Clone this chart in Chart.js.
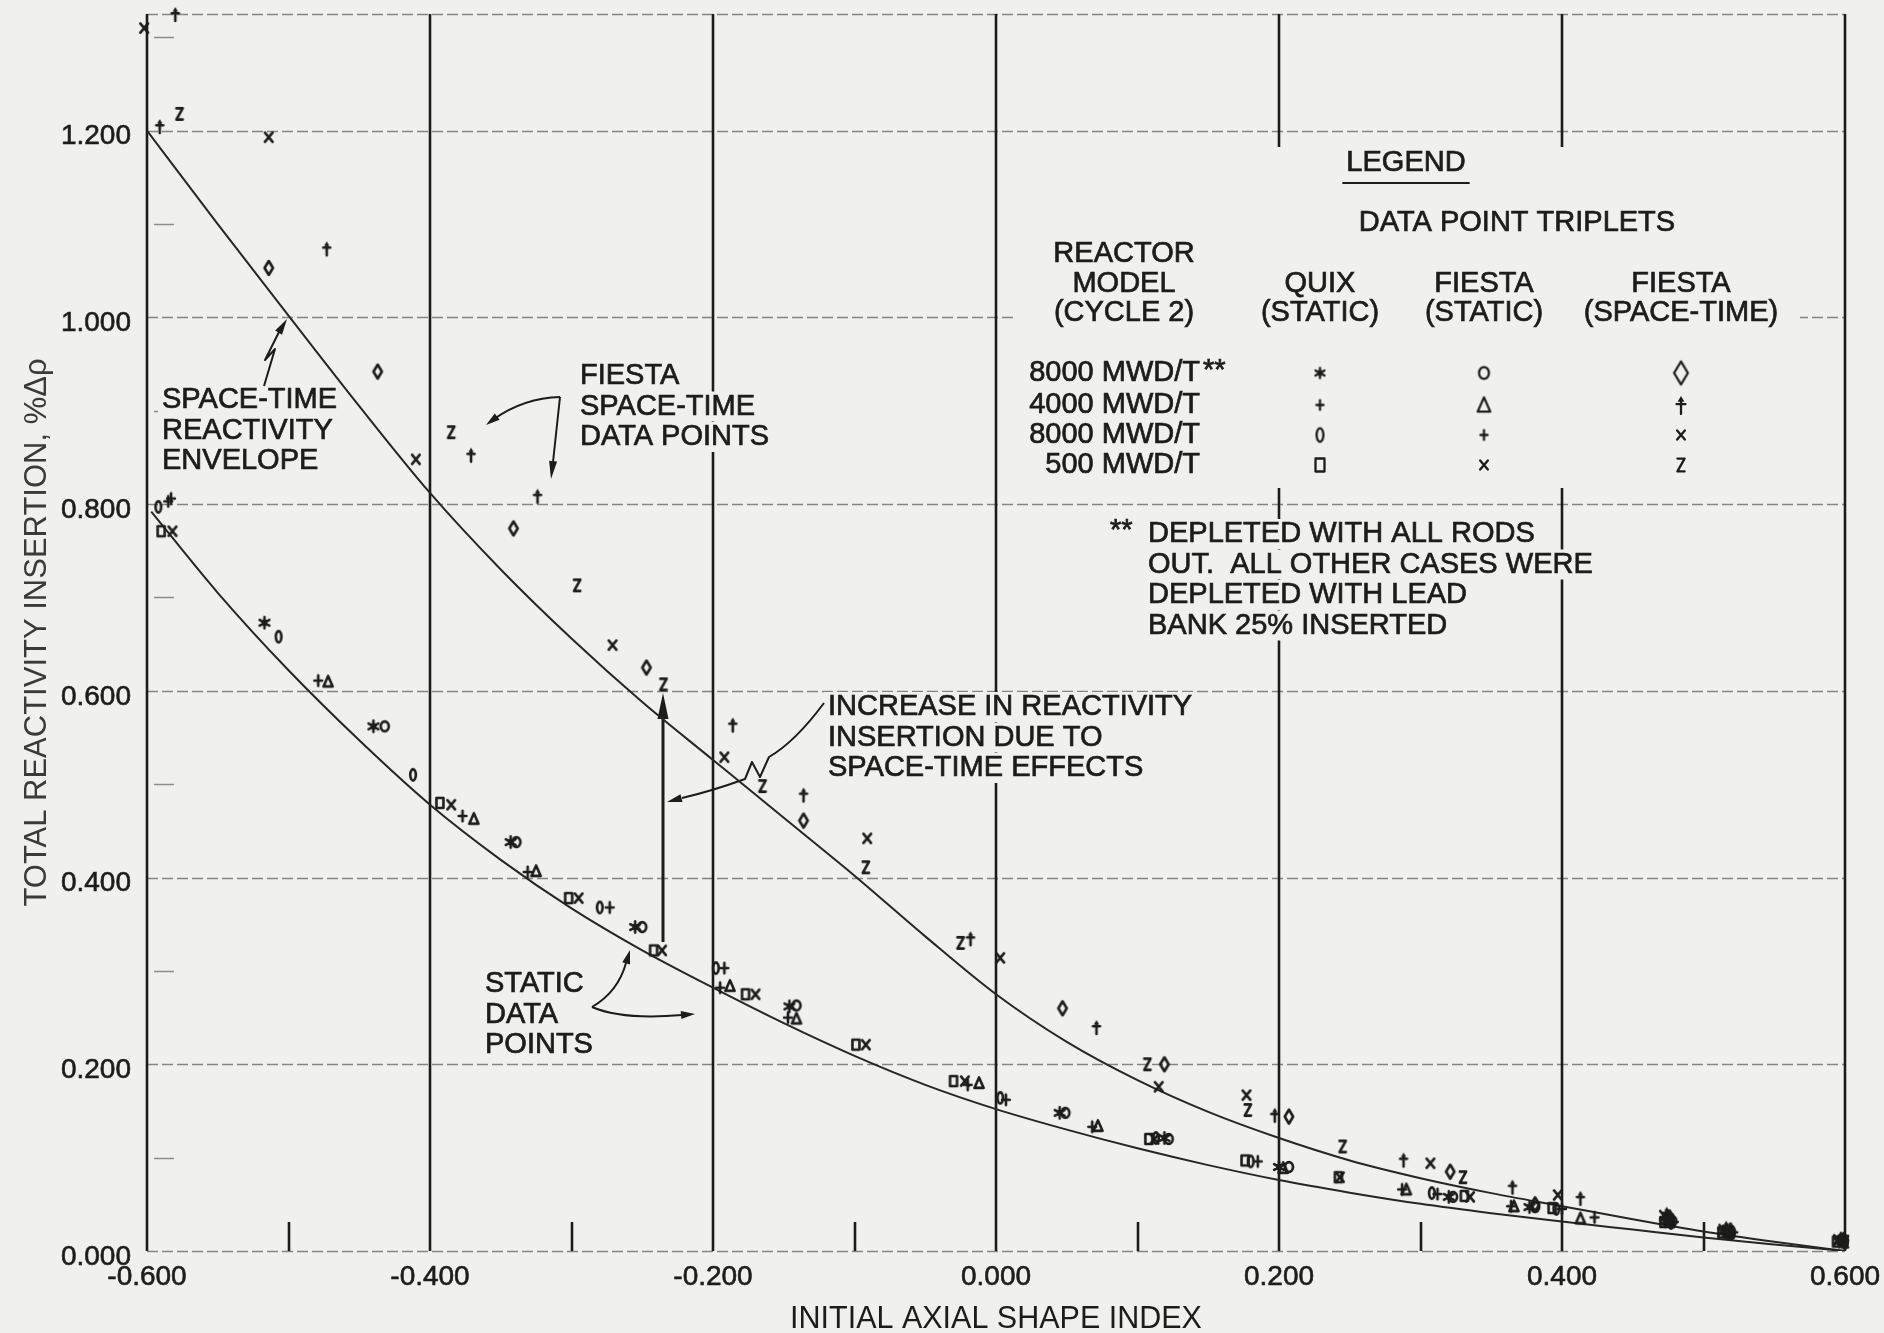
<!DOCTYPE html>
<html>
<head>
<meta charset="utf-8">
<title>Total reactivity insertion vs initial axial shape index</title>
<script src="https://cdn.jsdelivr.net/npm/chart.js@4.4.1/dist/chart.umd.min.js"></script>
<style>
  html, body { margin: 0; padding: 0; background: #f0f0ef; }
  canvas { display: block; }
</style>
</head>
<body>
<canvas id="chart" width="1884" height="1333"></canvas>
<script>
// ---- axes -------------------------------------------------------------
const xTicks = [-0.6, -0.4, -0.2, 0, 0.2, 0.4, 0.6];
const yTicks = [0, 0.2, 0.4, 0.6, 0.8, 1.0, 1.2];
const xMinorTicks = [-0.5, -0.3, -0.1, 0.1, 0.3, 0.5];
const yMinorTicks = [0.1, 0.3, 0.5, 0.7, 0.9, 1.1, 1.3];
const xRange = [-0.6, 0.6];
const yRange = [0, 1.325];

// ---- fitted curves [axial shape index, reactivity %dp] ----------------
const envelopeCurve = [
  [-0.600, 1.200], [-0.550, 1.100], [-0.500, 1.002], [-0.450, 0.905], [-0.400, 0.812],
  [-0.350, 0.730], [-0.300, 0.656], [-0.250, 0.588], [-0.200, 0.526], [-0.150, 0.464],
  [-0.100, 0.402], [-0.050, 0.337], [0.000, 0.275], [0.050, 0.224], [0.100, 0.183],
  [0.150, 0.149], [0.200, 0.121], [0.250, 0.097], [0.300, 0.078], [0.350, 0.062],
  [0.400, 0.048], [0.450, 0.034], [0.500, 0.021], [0.550, 0.010], [0.600, 0.000]
];
const staticCurve = [
  [-0.597, 0.792], [-0.550, 0.705], [-0.500, 0.622], [-0.450, 0.547], [-0.400, 0.478],
  [-0.350, 0.419], [-0.300, 0.367], [-0.250, 0.322], [-0.200, 0.282], [-0.150, 0.244],
  [-0.100, 0.209], [-0.050, 0.178], [0.000, 0.152], [0.050, 0.130], [0.100, 0.110],
  [0.150, 0.092], [0.200, 0.076], [0.250, 0.0625], [0.300, 0.0505], [0.350, 0.0405],
  [0.400, 0.0315], [0.450, 0.023], [0.500, 0.0145], [0.550, 0.007], [0.600, 0.000]
];

// ---- FIESTA space-time results ----------------------------------------
const stRodsOut8000 = [
  [-0.514, 1.053], [-0.437, 0.942], [-0.341, 0.774], [-0.247, 0.625], [-0.136, 0.461],
  [0.047, 0.260], [0.119, 0.200], [0.207, 0.144], [0.321, 0.085], [0.381, 0.050],
  [0.476, 0.036], [0.519, 0.022], [0.599, 0.012]
];
const st4000 = [
  [-0.580, 1.325], [-0.591, 1.205], [-0.473, 1.074], [-0.371, 0.853], [-0.324, 0.809],
  [-0.186, 0.564], [-0.136, 0.489], [-0.018, 0.335], [0.071, 0.240], [0.197, 0.146],
  [0.288, 0.098], [0.365, 0.069], [0.413, 0.057], [0.474, 0.040], [0.516, 0.025], [0.597, 0.014]
];
const st8000 = [
  [-0.602, 1.310], [-0.514, 1.193], [-0.410, 0.848], [-0.271, 0.649], [-0.192, 0.529],
  [-0.091, 0.442], [0.003, 0.314], [0.115, 0.176], [0.177, 0.167], [0.307, 0.094],
  [0.397, 0.060], [0.472, 0.038], [0.514, 0.023], [0.595, 0.012]
];
const st500 = [
  [-0.577, 1.218], [-0.385, 0.877], [-0.296, 0.713], [-0.235, 0.607], [-0.165, 0.498],
  [-0.092, 0.411], [-0.025, 0.330], [0.107, 0.200], [0.178, 0.151], [0.245, 0.112],
  [0.330, 0.079], [0.476, 0.033], [0.518, 0.020], [0.600, 0.010]
];

// ---- QUIX static results ----------------------------------------------
const quixRodsOut8000 = [
  [-0.517, 0.673], [-0.440, 0.562], [-0.343, 0.438], [-0.255, 0.347], [-0.146, 0.262],
  [0.045, 0.148], [0.119, 0.121], [0.200, 0.090], [0.320, 0.058], [0.377, 0.047],
  [0.473, 0.032], [0.514, 0.021], [0.596, 0.010]
];
const quix4000 = [
  [-0.585, 0.803], [-0.479, 0.611], [-0.377, 0.466], [-0.331, 0.406], [-0.195, 0.282],
  [-0.147, 0.250], [-0.020, 0.178], [0.068, 0.133], [0.287, 0.066], [0.364, 0.048],
  [0.423, 0.036], [0.474, 0.034], [0.516, 0.022], [0.597, 0.011]
];
const quix8000 = [
  [-0.592, 0.797], [-0.507, 0.658], [-0.412, 0.510], [-0.280, 0.368], [-0.198, 0.303],
  [0.003, 0.164], [0.113, 0.121], [0.180, 0.096], [0.308, 0.062], [0.396, 0.045],
  [0.477, 0.030], [0.520, 0.019], [0.600, 0.009]
];
const quix500 = [
  [-0.590, 0.771], [-0.393, 0.480], [-0.302, 0.378], [-0.242, 0.322], [-0.177, 0.275],
  [-0.099, 0.221], [-0.030, 0.182], [0.108, 0.120], [0.176, 0.097], [0.242, 0.079],
  [0.331, 0.059], [0.393, 0.046], [0.472, 0.031], [0.513, 0.020], [0.594, 0.010]
];

// ---- FIESTA static results --------------------------------------------
const fiestaRodsOut8000 = [
  [-0.432, 0.562], [-0.339, 0.438], [-0.250, 0.347], [-0.141, 0.263], [0.049, 0.148],
  [0.122, 0.120], [0.207, 0.090], [0.323, 0.058], [0.381, 0.047], [0.478, 0.032],
  [0.519, 0.021], [0.599, 0.011]
];
const fiesta4000 = [
  [-0.472, 0.610], [-0.369, 0.463], [-0.325, 0.407], [-0.188, 0.284], [-0.141, 0.249],
  [-0.012, 0.180], [0.072, 0.134], [0.203, 0.089], [0.290, 0.066], [0.366, 0.048],
  [0.413, 0.035], [0.476, 0.032], [0.518, 0.020]
];
const fiesta8000 = [
  [-0.583, 0.806], [-0.273, 0.368], [-0.192, 0.303], [0.007, 0.162], [0.185, 0.096],
  [0.312, 0.061], [0.400, 0.045], [0.479, 0.031], [0.521, 0.020]
];
const fiesta500 = [
  [-0.582, 0.771], [-0.385, 0.478], [-0.295, 0.378], [-0.236, 0.322], [-0.170, 0.275],
  [-0.092, 0.221], [-0.022, 0.182], [0.112, 0.120], [0.243, 0.079], [0.335, 0.058],
  [0.476, 0.031], [0.517, 0.020], [0.598, 0.011]
];

// space-time gain marked between the two curves
const increaseArrow = { x: -0.235, from: 0.331, to: 0.598 };

// ---- legend table -----------------------------------------------------
const legendRows = ['8000 MWD/T', '4000 MWD/T', '8000 MWD/T', '500 MWD/T'];
const legendCols = [['QUIX', '(STATIC)'], ['FIESTA', '(STATIC)'], ['FIESTA', '(SPACE-TIME)']];
const legendGlyphs = [
  ['star', 'ring', 'diamond'],
  ['plus', 'triangle', 'dagger'],
  ['zero', 'plus', 'ex'],
  ['square', 'ex', 'zed']
];

// ---- styling ----------------------------------------------------------
const INK = '#1c1c1c';
const PAPER = '#f0f0ef';
const FONT = '"Liberation Sans", Arial, Helvetica, sans-serif';

function glyph(kind, size, lw) {
  const pad = Math.ceil(lw) + 2;
  const c = document.createElement('canvas');
  c.width = c.height = Math.ceil(size) + pad * 2;
  const g = c.getContext('2d');
  g.translate(c.width / 2, c.height / 2);
  g.strokeStyle = INK; g.fillStyle = INK;
  g.lineWidth = lw; g.lineJoin = 'round'; g.lineCap = 'round';
  const r = size / 2;
  g.beginPath();
  switch (kind) {
    case 'diamond':
      g.moveTo(0, -r); g.lineTo(r * 0.6, 0); g.lineTo(0, r); g.lineTo(-r * 0.6, 0); g.closePath(); g.stroke();
      break;
    case 'dagger':
      g.moveTo(0, r); g.lineTo(0, -r * 0.45);
      g.moveTo(-r * 0.5, -r * 0.1); g.lineTo(r * 0.5, -r * 0.1); g.stroke();
      g.beginPath(); g.moveTo(0, -r); g.lineTo(r * 0.38, -r * 0.35); g.lineTo(-r * 0.38, -r * 0.35); g.closePath(); g.fill();
      break;
    case 'ex':
      g.moveTo(-r * 0.55, -r * 0.65); g.lineTo(r * 0.55, r * 0.65);
      g.moveTo(r * 0.55, -r * 0.65); g.lineTo(-r * 0.55, r * 0.65); g.stroke();
      break;
    case 'zed':
      g.moveTo(-r * 0.45, -r * 0.8); g.lineTo(r * 0.45, -r * 0.8); g.lineTo(-r * 0.45, r * 0.8); g.lineTo(r * 0.45, r * 0.8); g.stroke();
      break;
    case 'star':
      for (let k = 0; k < 3; k++) {
        const a = Math.PI / 2 + k * Math.PI / 3;
        g.moveTo(Math.cos(a) * r * 0.8, Math.sin(a) * r * 0.8);
        g.lineTo(-Math.cos(a) * r * 0.8, -Math.sin(a) * r * 0.8);
      }
      g.stroke(); g.beginPath(); g.arc(0, 0, r * 0.45, 0, Math.PI * 2); g.fill();
      break;
    case 'plus':
      g.moveTo(0, -r * 0.75); g.lineTo(0, r * 0.75); g.moveTo(-r * 0.55, 0); g.lineTo(r * 0.55, 0); g.stroke();
      break;
    case 'zero':
      g.ellipse(0, 0, r * 0.4, r * 0.8, 0, 0, Math.PI * 2); g.stroke();
      break;
    case 'square':
      g.rect(-r * 0.5, -r * 0.72, r, r * 1.44); g.stroke();
      break;
    case 'ring':
      g.ellipse(0, 0, r * 0.58, r * 0.7, 0, 0, Math.PI * 2); g.stroke();
      break;
    case 'triangle':
      g.moveTo(0, -r * 0.8); g.lineTo(r * 0.66, r * 0.7); g.lineTo(-r * 0.66, r * 0.7); g.closePath(); g.stroke();
      break;
  }
  return c;
}

const pairs = arr => arr.map(([x, y]) => ({ x, y }));

const markerSeries = [
  { label: 'FIESTA space-time 8000 MWD/T**', data: stRodsOut8000, kind: 'diamond' },
  { label: 'FIESTA space-time 4000 MWD/T', data: st4000, kind: 'dagger' },
  { label: 'FIESTA space-time 8000 MWD/T', data: st8000, kind: 'ex' },
  { label: 'FIESTA space-time 500 MWD/T', data: st500, kind: 'zed' },
  { label: 'QUIX static 8000 MWD/T**', data: quixRodsOut8000, kind: 'star' },
  { label: 'QUIX static 4000 MWD/T', data: quix4000, kind: 'plus' },
  { label: 'QUIX static 8000 MWD/T', data: quix8000, kind: 'zero' },
  { label: 'QUIX static 500 MWD/T', data: quix500, kind: 'square' },
  { label: 'FIESTA static 8000 MWD/T**', data: fiestaRodsOut8000, kind: 'ring' },
  { label: 'FIESTA static 4000 MWD/T', data: fiesta4000, kind: 'triangle' },
  { label: 'FIESTA static 8000 MWD/T', data: fiesta8000, kind: 'plus' },
  { label: 'FIESTA static 500 MWD/T', data: fiesta500, kind: 'ex' }
];

const datasets = markerSeries.map(s => ({
  label: s.label,
  data: pairs(s.data),
  pointStyle: glyph(s.kind, 14, 2.6),
  pointRadius: 8,
  showLine: false,
  clip: false
}));
[['Space-time reactivity envelope', envelopeCurve], ['Static fit', staticCurve]].forEach(([label, pts]) => {
  datasets.push({
    label, data: pairs(pts), showLine: true, pointRadius: 0,
    borderColor: '#262626', borderWidth: 2, cubicInterpolationMode: 'monotone', fill: false
  });
});

// ---- annotation layout (canvas pixels) --------------------------------
const LINE_GAP = 30.5;
const notes = [
  { x: 162, y: 400, lines: ['SPACE-TIME', 'REACTIVITY', 'ENVELOPE'] },
  { x: 580, y: 376, lines: ['FIESTA', 'SPACE-TIME', 'DATA POINTS'] },
  { x: 485, y: 984, lines: ['STATIC', 'DATA', 'POINTS'] },
  { x: 828, y: 707, lines: ['INCREASE IN REACTIVITY', 'INSERTION DUE TO', 'SPACE-TIME EFFECTS'] },
  { x: 1148, y: 534, lines: ['DEPLETED WITH ALL RODS', 'OUT.  ALL OTHER CASES WERE', 'DEPLETED WITH LEAD', 'BANK 25% INSERTED'] }
];
const legendBox = { left: 1015, top: 147, right: 1800, bottom: 488 };
const legendLayout = {
  titleX: 1406, titleY: 163, tripletsX: 1517, tripletsY: 223,
  modelX: 1124, headY: [254, 284, 313], colX: [1320, 1484, 1681],
  rowRight: 1200, rowY: [373, 405, 435, 465]
};

function arrowHead(ctx, tx, ty, fx, fy, len, hw) {
  const a = Math.atan2(ty - fy, tx - fx);
  const bx = tx - len * Math.cos(a), by = ty - len * Math.sin(a);
  ctx.beginPath();
  ctx.moveTo(tx, ty);
  ctx.lineTo(bx + hw * Math.sin(a), by - hw * Math.cos(a));
  ctx.lineTo(bx - hw * Math.sin(a), by + hw * Math.cos(a));
  ctx.closePath();
  ctx.fill();
}

// ink text with a slight stroke so it reads like the printed lettering
function ink(ctx, str, x, y) {
  ctx.fillStyle = INK;
  ctx.strokeStyle = INK;
  ctx.lineWidth = 0.7;
  ctx.fillText(str, x, y);
  ctx.strokeText(str, x, y);
}

function textLine(ctx, str, x, y, align) {
  const w = ctx.measureText(str).width;
  const left = align === 'center' ? x - w / 2 : align === 'right' ? x - w : x;
  ctx.fillStyle = PAPER;
  ctx.fillRect(left - 4, y - 15, w + 8, 30);
  ctx.textAlign = align;
  ink(ctx, str, x, y);
}

const paperPlugin = {
  id: 'paper',
  beforeDraw(chart) {
    const { ctx, width, height } = chart;
    ctx.save();
    ctx.fillStyle = PAPER;
    ctx.fillRect(0, 0, width, height);
    ctx.restore();
  },
  beforeDatasetsDraw(chart) {
    const { ctx, chartArea: a, scales: { x, y } } = chart;
    const px = v => Math.round(x.getPixelForValue(v));
    const py = v => Math.round(y.getPixelForValue(v));
    ctx.save();

    // faint dashed horizontal rules (incl. zero line and top edge)
    ctx.strokeStyle = '#848484';
    ctx.lineWidth = 1.7;
    ctx.setLineDash([11, 4]);
    [...yTicks, yRange[1]].forEach(v => {
      ctx.beginPath(); ctx.moveTo(a.left, py(v) + 0.5); ctx.lineTo(a.right, py(v) + 0.5); ctx.stroke();
    });
    ctx.setLineDash([]);

    // short minor ticks along the left edge
    ctx.strokeStyle = '#8c8c8c';
    ctx.lineWidth = 1.5;
    yMinorTicks.forEach(v => {
      ctx.beginPath(); ctx.moveTo(a.left + 7, py(v) + 0.5); ctx.lineTo(a.left + 27, py(v) + 0.5); ctx.stroke();
    });

    // solid vertical rules and frame sides
    ctx.strokeStyle = INK;
    ctx.lineWidth = 2.6;
    xTicks.forEach(v => {
      ctx.beginPath(); ctx.moveTo(px(v), a.top); ctx.lineTo(px(v), a.bottom); ctx.stroke();
    });
    xMinorTicks.forEach(v => {
      ctx.beginPath(); ctx.moveTo(px(v), a.bottom); ctx.lineTo(px(v), a.bottom - 29); ctx.stroke();
    });

    ctx.font = '29px ' + FONT;
    ctx.textBaseline = 'middle';

    // legend block
    ctx.fillStyle = PAPER;
    ctx.fillRect(legendBox.left, legendBox.top, legendBox.right - legendBox.left, legendBox.bottom - legendBox.top);
    const L = legendLayout;
    ctx.textAlign = 'center';
    ink(ctx, 'LEGEND', L.titleX, L.titleY);
    const lw = ctx.measureText('LEGEND').width;
    ctx.lineWidth = 2;
    ctx.beginPath(); ctx.moveTo(L.titleX - lw / 2 - 4, L.titleY + 20); ctx.lineTo(L.titleX + lw / 2 + 4, L.titleY + 20); ctx.stroke();
    ink(ctx, 'DATA POINT TRIPLETS', L.tripletsX, L.tripletsY);
    ['REACTOR', 'MODEL', '(CYCLE 2)'].forEach((s, i) => ink(ctx, s, L.modelX, L.headY[i]));
    legendCols.forEach((col, c) => col.forEach((s, i) => ink(ctx, s, L.colX[c], L.headY[i + 1])));
    ctx.textAlign = 'right';
    legendRows.forEach((s, r) => ink(ctx, s, L.rowRight, L.rowY[r]));
    ctx.textAlign = 'left';
    ink(ctx, '**', L.rowRight + 3, L.rowY[0] - 2);
    const legendSizes = { star: 13, ring: 17, diamond: 23, plus: 13, triangle: 19, dagger: 18, zero: 17, ex: 14, square: 18, zed: 16 };
    legendGlyphs.forEach((row, r) => row.forEach((k, c) => {
      const img = glyph(k, legendSizes[k], 2.3);
      ctx.drawImage(img, L.colX[c] - img.width / 2, L.rowY[r] - img.height / 2);
    }));

    // footnote marker
    textLine(ctx, '**', 1110, 531, 'left');

    // text notes
    notes.forEach(n => n.lines.forEach((s, i) => textLine(ctx, s, n.x, n.y + i * LINE_GAP, 'left')));

    // pointer arrows
    ctx.strokeStyle = INK;
    ctx.fillStyle = INK;
    ctx.lineWidth = 2;
    ctx.lineJoin = 'round';
    // lightning pointer to the envelope
    ctx.beginPath();
    ctx.moveTo(264, 386); ctx.lineTo(275, 349); ctx.lineTo(265, 360); ctx.lineTo(279, 332);
    ctx.stroke();
    arrowHead(ctx, 287, 319, 279, 332, 16, 4);

    // space-time data points pointers
    ctx.beginPath(); ctx.moveTo(560, 397); ctx.quadraticCurveTo(524, 398, 494, 419); ctx.stroke();
    arrowHead(ctx, 486, 425, 498, 416, 14, 4);
    ctx.beginPath(); ctx.moveTo(560, 397); ctx.lineTo(553, 462); ctx.stroke();
    arrowHead(ctx, 551, 479, 553, 462, 18, 4);

    // static data points pointers
    ctx.beginPath(); ctx.moveTo(592, 1007); ctx.quadraticCurveTo(618, 992, 626, 963); ctx.stroke();
    arrowHead(ctx, 630, 950, 626, 964, 14, 4);
    ctx.beginPath(); ctx.moveTo(592, 1007); ctx.quadraticCurveTo(622, 1020, 682, 1015); ctx.stroke();
    arrowHead(ctx, 695, 1014, 681, 1015, 14, 4);

    // pointer from the increase note
    ctx.beginPath();
    ctx.moveTo(824, 703); ctx.quadraticCurveTo(795, 742, 769, 757);
    ctx.lineTo(760, 777); ctx.lineTo(752, 762); ctx.lineTo(745, 779);
    ctx.quadraticCurveTo(712, 791, 682, 798);
    ctx.stroke();
    arrowHead(ctx, 667, 802, 682, 798, 15, 4);

    // vertical space-time increase arrow
    const ax = px(increaseArrow.x);
    ctx.lineWidth = 3;
    ctx.beginPath(); ctx.moveTo(ax, py(increaseArrow.from)); ctx.lineTo(ax, py(increaseArrow.to) + 20); ctx.stroke();
    arrowHead(ctx, ax, py(increaseArrow.to), ax, py(increaseArrow.to) + 24, 26, 5.5);

    ctx.restore();
  }
};

const fmt = v => (v < -1e-9 ? '-' : '') + Math.abs(v).toFixed(3);
const tickFont = { family: FONT, size: 28 };

new Chart(document.getElementById('chart'), {
  type: 'scatter',
  data: { datasets },
  options: {
    responsive: false,
    animation: false,
    events: [],
    layout: { padding: { left: 0, top: 14, right: 39, bottom: 0 } },
    plugins: { legend: { display: false }, tooltip: { enabled: false } },
    scales: {
      x: {
        type: 'linear', min: xRange[0], max: xRange[1],
        grid: { display: false, drawTicks: false }, border: { display: false },
        afterBuildTicks: s => { s.ticks = xTicks.map(v => ({ value: v })); },
        afterFit: s => { s.height = 82; s.paddingLeft = 0; s.paddingRight = 0; },
        ticks: { autoSkip: false, maxRotation: 0, padding: 9, color: INK, textStrokeColor: INK, textStrokeWidth: 0.6, font: tickFont, callback: fmt },
        title: { display: true, text: 'INITIAL AXIAL SHAPE INDEX', color: INK, font: { family: FONT, size: 30.5, lineHeight: 0.9 }, padding: 0 }
      },
      y: {
        type: 'linear', min: yRange[0], max: yRange[1],
        grid: { display: false, drawTicks: false }, border: { display: false },
        afterBuildTicks: s => { s.ticks = yTicks.map(v => ({ value: v })); },
        afterFit: s => { s.width = 147; s.paddingTop = 0; s.paddingBottom = 0; },
        ticks: { autoSkip: false, padding: 16, labelOffset: 6, color: INK, textStrokeColor: INK, textStrokeWidth: 0.6, font: tickFont, callback: fmt },
        title: { display: true, text: 'TOTAL REACTIVITY INSERTION, %\u0394\u03c1', color: '#3a3a3a', font: { family: FONT, size: 31 }, padding: { top: 19, bottom: 0 } }
      }
    }
  },
  plugins: [paperPlugin]
});
</script>
</body>
</html>
